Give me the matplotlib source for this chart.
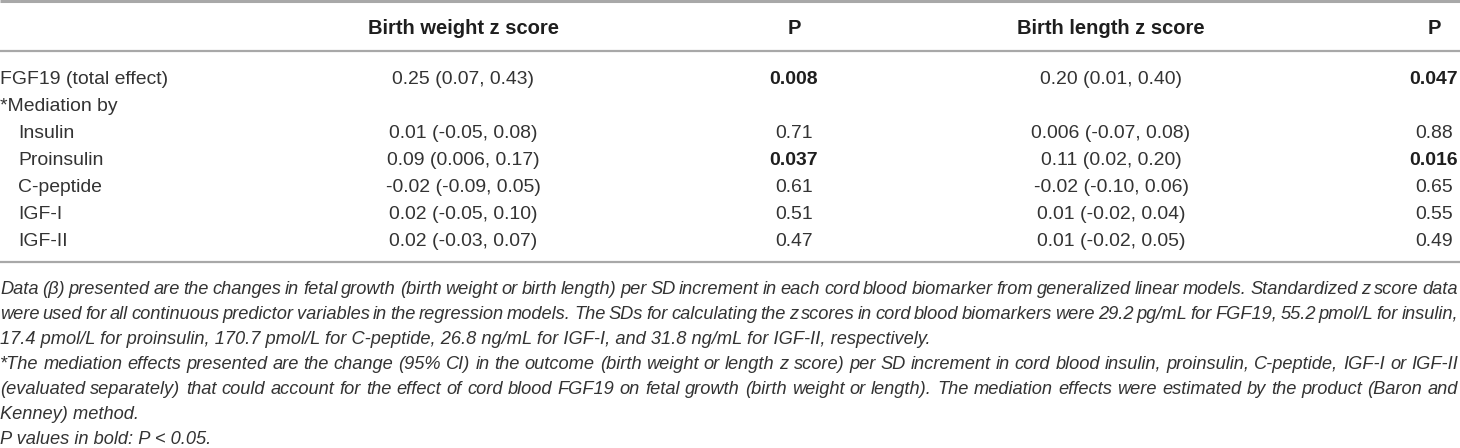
import matplotlib
matplotlib.use("Agg")
import matplotlib.pyplot as plt

# ---------------- data ----------------
headers = ["", "Birth weight z score", "P", "Birth length z score", "P"]
row_labels = ["FGF19 (total effect)", "*Mediation by", "Insulin", "Proinsulin",
              "C-peptide", "IGF-I", "IGF-II"]
row_level = [0, 0, 1, 1, 1, 1, 1]
bw_effect = ["0.25 (0.07, 0.43)", "", "0.01 (-0.05, 0.08)", "0.09 (0.006, 0.17)",
             "-0.02 (-0.09, 0.05)", "0.02 (-0.05, 0.10)", "0.02 (-0.03, 0.07)"]
bw_p = ["0.008", "", "0.71", "0.037", "0.61", "0.51", "0.47"]
bl_effect = ["0.20 (0.01, 0.40)", "", "0.006 (-0.07, 0.08)", "0.11 (0.02, 0.20)",
             "-0.02 (-0.10, 0.06)", "0.01 (-0.02, 0.04)", "0.01 (-0.02, 0.05)"]
bl_p = ["0.047", "", "0.88", "0.016", "0.65", "0.55", "0.49"]
footnotes = [
    "Data (\u03b2) presented are the changes in fetal growth (birth weight or birth length) per SD increment in each cord blood biomarker from generalized linear models. Standardized z score data",
    "were used for all continuous predictor variables in the regression models. The SDs for calculating the z scores in cord blood biomarkers were 29.2 pg/mL for FGF19, 55.2 pmol/L for insulin,",
    "17.4 pmol/L for proinsulin, 170.7 pmol/L for C-peptide, 26.8 ng/mL for IGF-I, and 31.8 ng/mL for IGF-II, respectively.",
    "*The mediation effects presented are the change (95% CI) in the outcome (birth weight or length z score) per SD increment in cord blood insulin, proinsulin, C-peptide, IGF-I or IGF-II",
    "(evaluated separately) that could account for the effect of cord blood FGF19 on fetal growth (birth weight or length). The mediation effects were estimated by the product (Baron and",
    "Kenney) method.",
    "P values in bold: P < 0.05.",
]
footnote_justified = [True, True, False, True, True, False, False]

# ---------------- layout ----------------
W, H = 1460, 448
FONT = "Liberation Sans"
TXT = "#333333"
BOLD = "#1e1e1e"
LINE = "#a8a8a8"

fig = plt.figure(figsize=(W / 100, H / 100), dpi=100)
ax = fig.add_axes([0, 0, 1, 1])
ax.set_xlim(0, W)
ax.set_ylim(H, 0)
ax.axis("off")
renderer = fig.canvas.get_renderer()


def text_width(s, **kw):
    t = ax.text(0, 0, s, fontfamily=FONT, **kw)
    w = t.get_window_extent(renderer).width
    t.remove()
    return w


# fit font sizes to the reference text widths
fs_a = 10 * 163 / text_width("FGF19 (total effect)", fontsize=10)
fs_b = 10 * 147 / text_width("0.25 (0.07, 0.43)", fontsize=10)
body_fs = 0.5 * (fs_a + fs_b)
head_fs = 10 * 191 / text_width("Birth weight z score", fontsize=10, fontweight="bold")
note_fs = 10 * 935 / text_width(footnotes[2], fontsize=10, style="italic")


def base(y, fs):
    # convert a visual centre line into a baseline position
    return y + 0.36 * fs * 100 / 72


col_x = [0, 463, 794, 1111, 1434]
header_y = 27
row_y0, row_dy = 77, 27.0
note_y0, note_dy = 287, 25.0

# rules
ax.plot([0, W], [1.5, 1.5], color=LINE, lw=2.2, solid_capstyle="butt")
ax.plot([0, W], [51, 51], color=LINE, lw=1.6, solid_capstyle="butt")
ax.plot([0, W], [262, 262], color=LINE, lw=1.6, solid_capstyle="butt")

# header
for x, h in zip(col_x[1:], headers[1:]):
    ax.text(x, base(header_y, head_fs), h, ha="center", va="baseline", fontfamily=FONT,
            fontsize=head_fs, fontweight="bold", color=BOLD)


def is_sig(p):
    return p != "" and float(p) < 0.05


for i, lab in enumerate(row_labels):
    y = base(row_y0 + i * row_dy, body_fs)
    ax.text(18 * row_level[i], y, lab, ha="left", va="baseline", fontfamily=FONT,
            fontsize=body_fs, color=TXT)
    for x, v in ((col_x[1], bw_effect[i]), (col_x[3], bl_effect[i])):
        ax.text(x, y, v, ha="center", va="baseline", fontfamily=FONT,
                fontsize=body_fs, color=TXT)
    for x, p in ((col_x[2], bw_p[i]), (col_x[4], bl_p[i])):
        sig = is_sig(p)
        ax.text(x, y, p, ha="center", va="baseline", fontfamily=FONT,
                fontsize=body_fs, color=BOLD if sig else TXT,
                fontweight="bold" if sig else "normal")

# footnotes (justified where the reference is justified)
right_edge = 1458
for i, line in enumerate(footnotes):
    y = base(note_y0 + i * note_dy, note_fs)
    kw = dict(fontfamily=FONT, fontsize=note_fs, style="italic", color=TXT,
              va="baseline", ha="left")
    if not footnote_justified[i]:
        ax.text(0, y, line, **kw)
        continue
    words = line.split(" ")
    widths = [text_width(w, fontsize=note_fs, style="italic") for w in words]
    gap = (right_edge - sum(widths)) / (len(words) - 1)
    x = 0.0
    for w, wd in zip(words, widths):
        ax.text(x, y, w, **kw)
        x += wd + gap

fig.savefig("out.png", dpi=100)
